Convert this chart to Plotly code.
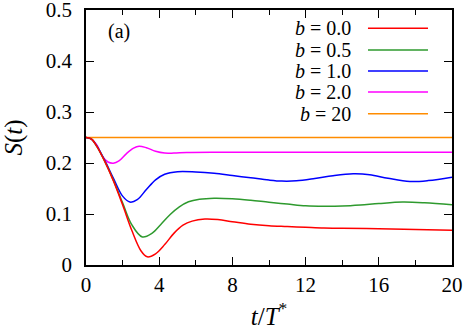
import plotly.graph_objects as go

# b = 0.0
t_r = [0, 0.3, 0.6, 1.0, 1.5, 2.0, 2.5, 3.0, 3.35, 3.8, 4.3, 4.8, 5.3, 5.8, 6.5, 7.2, 8, 9, 10, 11, 12, 13, 14, 16, 18, 20]
s_r = [0.25, 0.247, 0.232, 0.205, 0.165, 0.118, 0.068, 0.028, 0.016, 0.022, 0.040, 0.062, 0.078, 0.086, 0.090, 0.089, 0.085, 0.080, 0.077, 0.0755, 0.074, 0.0726, 0.072, 0.071, 0.0695, 0.068]

# b = 0.5
t_g = [0, 0.3, 0.6, 1.0, 1.5, 2.0, 2.5, 3.08, 3.6, 4.1, 4.6, 5.1, 5.6, 6.2, 7, 8, 9, 10, 11, 12, 13, 14, 15, 16, 17.3, 18.5, 20]
s_g = [0.25, 0.247, 0.232, 0.205, 0.166, 0.122, 0.079, 0.055, 0.062, 0.080, 0.099, 0.114, 0.124, 0.129, 0.131, 0.130, 0.127, 0.123, 0.1195, 0.116, 0.115, 0.1155, 0.1175, 0.1205, 0.1234, 0.122, 0.118]

# b = 1.0
t_b = [0, 0.3, 0.6, 1.0, 1.5, 2.0, 2.4, 2.8, 3.3, 3.8, 4.3, 5.0, 6, 7, 8, 9, 10, 10.7, 11.5, 12.5, 13.5, 14.6, 15.5, 16.5, 17.7, 18.7, 20]
s_b = [0.25, 0.247, 0.233, 0.207, 0.170, 0.135, 0.1234, 0.128, 0.148, 0.167, 0.178, 0.183, 0.1825, 0.180, 0.1755, 0.171, 0.1665, 0.1645, 0.165, 0.1695, 0.175, 0.1787, 0.177, 0.170, 0.1637, 0.1655, 0.1722]

# b = 2.0
t_m = [0, 0.3, 0.6, 0.9, 1.2, 1.49, 1.8, 2.2, 2.6, 2.9, 3.3, 3.8, 4.3, 4.8, 5.5, 7, 10, 14, 20]
s_m = [0.25, 0.247, 0.235, 0.213, 0.202, 0.1996, 0.204, 0.218, 0.229, 0.233, 0.230, 0.223, 0.2195, 0.2195, 0.2205, 0.221, 0.221, 0.221, 0.221]

# b = 20
t_o = [0, 20]
s_o = [0.25, 0.25]

labels = ["<i>b</i> = 0.0", "<i>b</i> = 0.5", "<i>b</i> = 1.0", "<i>b</i> = 2.0", "<i>b</i> = 20"]
colors = ["#ff0000", "#2e9a2e", "#0000ff", "#ff00ff", "#ff8c00"]
series = [(t_r, s_r), (t_g, s_g), (t_b, s_b), (t_m, s_m), (t_o, s_o)]

FONT = "Liberation Serif"
FS = 21

fig = go.Figure()
for (t, s), c in zip(series[::-1], colors[::-1]):
    fig.add_trace(go.Scatter(x=t, y=s, mode="lines",
                             line=dict(color=c, width=1.5, shape="spline", smoothing=1),
                             showlegend=False, hoverinfo="skip"))

# legend drawn by hand: text on the left, line sample on the right
leg_y = [0.928, 0.843, 0.761, 0.678, 0.593]
annotations = []
shapes = []
for lab, c, y in zip(labels, colors, leg_y):
    annotations.append(dict(x=0.7295, y=y, xref="paper", yref="paper", text=lab,
                            showarrow=False, xanchor="right", yanchor="middle",
                            font=dict(family=FONT, size=FS - 1, color="black")))
    shapes.append(dict(type="line", xref="paper", yref="paper", x0=0.7704, x1=0.9344,
                       y0=y, y1=y, line=dict(color=c, width=1.5)))

annotations.append(dict(x=0.089, y=0.915, xref="paper", yref="paper", text="(a)",
                        showarrow=False, xanchor="center", yanchor="middle",
                        font=dict(family=FONT, size=FS - 1, color="black")))

fig.update_layout(
    width=463, height=330,
    margin=dict(l=86, r=11, t=10, b=65, autoexpand=False),
    plot_bgcolor="white", paper_bgcolor="white",
    font=dict(family=FONT, size=FS, color="black"),
    annotations=annotations, shapes=shapes,
    xaxis=dict(range=[0, 20], dtick=4, tick0=0, ticks="inside", ticklen=8, tickwidth=1.2,
               tickcolor="black", showline=True, linecolor="black", linewidth=1.5,
               mirror="allticks", showgrid=False, zeroline=False, automargin=False,
               ticklabeloverflow="allow",
               minor=dict(dtick=2, ticks="inside", ticklen=5, tickcolor="black", tickwidth=1.2),
               title=dict(text="<i>t</i>/<i>T</i><sup>*</sup>", standoff=20)),
    yaxis=dict(range=[0, 0.5], dtick=0.1, tick0=0, ticks="inside", ticklen=8, tickwidth=1.2,
               tickcolor="black", showline=True, linecolor="black", linewidth=1.5,
               mirror="allticks", showgrid=False, zeroline=False, ticklabelstandoff=8,
               automargin=False, ticklabeloverflow="allow",
               title=dict(text="<i>S</i>(<i>t</i>)", standoff=18)),
)

fig.write_html("out.html", config={"displayModeBar": False},
               post_script="document.body.style.margin='0';")
